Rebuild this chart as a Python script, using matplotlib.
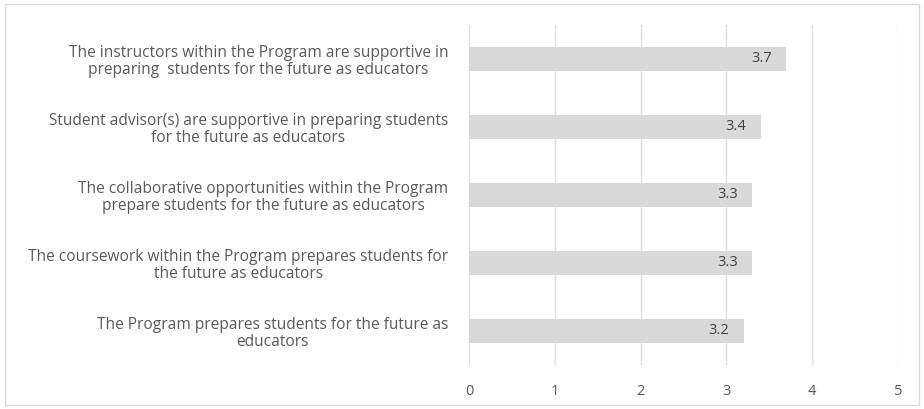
import matplotlib.pyplot as plt
from matplotlib.patches import Rectangle

statements = [
    "The instructors within the Program are supportive in\npreparing  students for the future as educators",
    "Student advisor(s) are supportive in preparing students\nfor the future as educators",
    "The collaborative opportunities within the Program\nprepare students for the future as educators",
    "The coursework within the Program prepares students for\nthe future as educators",
    "The Program prepares students for the future as\neducators",
]
scores = [3.7, 3.4, 3.3, 3.3, 3.2]
xticks = [0, 1, 2, 3, 4, 5]

plt.rcParams['font.family'] = ['Open Sans', 'DejaVu Sans']
txt = '#595959'

fig = plt.figure(figsize=(9.24, 4.09), dpi=100)
ax = fig.add_axes([0.5076, 0.1076, 0.4643, 0.8313])

ypos = list(range(len(scores)))
ax.barh(ypos, scores, height=0.35, color='#d9d9d9', zorder=2)
ax.set_ylim(len(scores) - 0.5, -0.5)
ax.set_xlim(0, 5)
ax.set_xticks(xticks)
ax.set_xticklabels([str(t) for t in xticks], fontsize=10.5, color=txt)
ax.tick_params(axis='x', length=0, pad=14)
ax.set_yticks(ypos)
ax.set_yticklabels(statements, fontsize=11.2, color=txt, multialignment='center',
                   linespacing=1.1)
ax.tick_params(axis='y', length=0, pad=15)
ax.grid(axis='x', color='#dedede', linewidth=1, zorder=0)
for s in ax.spines.values():
    s.set_visible(False)

for y, v in zip(ypos, scores):
    ax.text(v - 0.17, y, f"{v:.1f}", ha='right', va='center', fontsize=10.5, color='#404040', zorder=3)

fig.patches.append(Rectangle((0.005, 0.01), 0.99, 0.98, transform=fig.transFigure,
                             fill=False, edgecolor='#d9d9d9', linewidth=1))

plt.savefig('out.png', dpi=100)
